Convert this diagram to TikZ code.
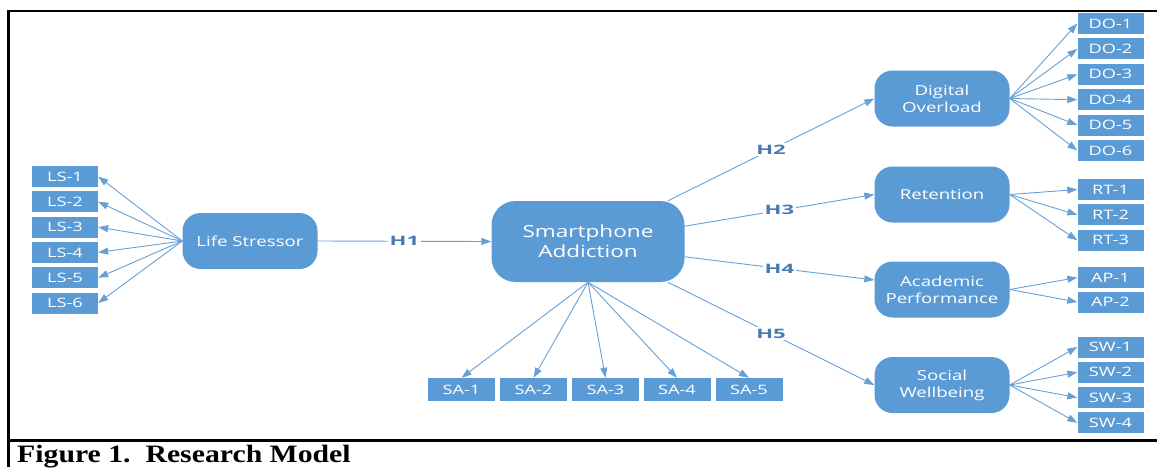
\documentclass[tikz,border=0pt]{standalone}
\usepackage{fontspec}
\usetikzlibrary{arrows.meta,calc}
\newfontfamily\nodefont[FakeStretch=1.35]{Open Sans}
\newfontfamily\itemfont[FakeStretch=1.4]{Open Sans}
\newfontfamily\hfont[FakeStretch=1.7]{Open Sans}
\newfontfamily\capfont[FakeStretch=1.19]{Liberation Serif}
\definecolor{boxblue}{RGB}{91,155,213}
\definecolor{lineblue}{RGB}{104,160,214}
\definecolor{hblue}{RGB}{72,122,182}
\begin{document}
\begin{tikzpicture}[x=1pt,y=-1pt,
 item/.style={rectangle, fill=boxblue, text=white, minimum width=66pt, minimum height=21pt, inner sep=0pt, font=\itemfont\fontsize{13}{15}\selectfont},
 saitem/.style={item, minimum width=67pt, minimum height=23pt},
 construct/.style={rectangle, rounded corners=18pt, fill=boxblue, text=white, minimum width=135pt, minimum height=56pt, inner sep=0pt, align=center, font=\nodefont\fontsize{13.8}{17}\selectfont},
 link/.style={draw=lineblue, line width=0.9pt, -{Triangle[length=10pt,width=7pt]}},
 hyp/.style={fill=white, text=hblue, inner sep=1.5pt, font=\hfont\bfseries\fontsize{13}{15}\selectfont},
 frameline/.style={line width=2.5pt, black}]
\useasboundingbox (0,0) rectangle (1157,467);
% frame
\coordinate (ftl) at (8.5,11);
\coordinate (ftr) at (1157,11);
\coordinate (fbl) at (8.5,467);
\coordinate (fml) at (8.5,440.5);
\coordinate (fmr) at (1157,440.5);
\draw[frameline] (fbl) -- (ftl) -- (ftr);
\draw[frameline] (fml) -- (fmr);
\node[anchor=base west, inner sep=0pt, font=\capfont\bfseries\fontsize{25}{29}\selectfont] (cap) at (17,462) {Figure 1.\ \ Research Model};
% constructs
\node[construct] (ls) at (250,241) {Life Stressor};
\node[construct, minimum width=193pt, minimum height=81pt, rounded corners=24pt, font=\nodefont\fontsize{16.7}{20}\selectfont] (sa) at (588,241.5) {Smartphone\\Addiction};
\node[construct] (do) at (942,98.5) {Digital\\Overload};
\node[construct] (rt) at (942,194.5) {Retention};
\node[construct] (ap) at (942,289.5) {Academic\\Performance};
\node[construct] (sw) at (942,385) {Social\\Wellbeing};
% LS items
\foreach \i/\y in {1/176.5,2/201.8,3/227.1,4/252.4,5/277.7,6/303}{
  \node[item] (ls\i) at (65,\y) {LS-\i};
  \draw[link] (ls.west) -- (ls\i.east);
}
% DO items
\foreach \i/\y in {1/23.5,2/48.9,3/74.3,4/99.7,5/125.1,6/150.5}{
  \node[item] (do\i) at (1110.5,\y) {DO-\i};
  \draw[link] (do.east) -- (do\i.west);
}
% RT items
\foreach \i/\y in {1/189.5,2/214.8,3/240.3}{
  \node[item] (rt\i) at (1110.5,\y) {RT-\i};
  \draw[link] (rt.east) -- (rt\i.west);
}
% AP items
\foreach \i/\y in {1/277.5,2/302}{
  \node[item] (ap\i) at (1110.5,\y) {AP-\i};
  \draw[link] (ap.east) -- (ap\i.west);
}
% SW items
\foreach \i/\y in {1/347,2/372.3,3/397.6,4/422.8}{
  \node[item] (sw\i) at (1110.5,\y) {SW-\i};
  \draw[link] (sw.east) -- (sw\i.west);
}
% SA items
\foreach \i/\x in {1/461.5,2/533.5,3/605.5,4/677,5/749}{
  \node[saitem] (sa\i) at (\x,389.5) {SA-\i};
  \draw[link] (sa.south) -- (sa\i.north);
}
% hypotheses
\draw[link] (ls.east) -- node[hyp]{H1} (sa.west);
\draw[link] (sa.27) -- node[hyp]{H2} (do.west);
\draw[link] (sa.9) -- node[hyp]{H3} (rt.west);
\draw[link] (sa.-9) -- node[hyp]{H4} (ap.172);
\draw[link] (sa.-27) -- node[hyp]{H5} (sw.west);
\end{tikzpicture}
\end{document}
